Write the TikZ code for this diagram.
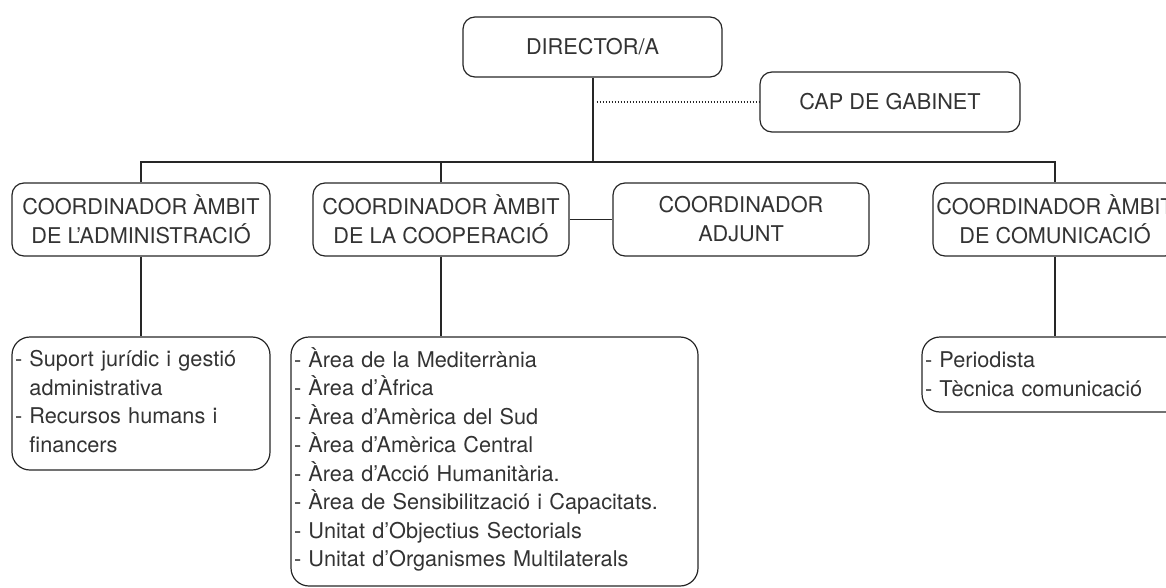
\documentclass[tikz,border=0pt]{standalone}
\usepackage{fontspec}
\setmainfont{TeX Gyre Heros}
\usetikzlibrary{calc}

\tikzset{
    box/.style = {draw = black!85, line width = 1.2pt, rounded corners = 12pt, text = black!80, font = \fontsize{21.7}{29}\selectfont, inner sep = 0pt},
    headbox/.style = {box, align = center, minimum height = 73pt},
    listbox/.style = {box, align = left, inner xsep = 3pt, rounded corners = 18pt, font = \fontsize{21.7}{28.5}\selectfont, text height = 16pt},
    link/.style = {draw = black!85, line width = 1.2pt},
}

\begin{document}
\begin{tikzpicture}[x = 1pt, y = -1pt]
    \useasboundingbox (0, 0) rectangle (1166, 588);
    \clip (0, 0) rectangle (1166, 588);

    \node[box, minimum width = 259pt, minimum height = 60pt] (director) at (592.5, 47) {DIRECTOR/A};
    \node[box, minimum width = 260pt, minimum height = 60pt] (gabinet) at (890, 102) {CAP DE GABINET};

    \node[headbox, minimum width = 258pt] (admin) at (141, 219.5) {COORDINADOR ÀMBIT\\DE L’ADMINISTRACIÓ};
    \node[headbox, minimum width = 256pt] (cooperacio) at (441, 219.5) {COORDINADOR ÀMBIT\\DE LA COOPERACIÓ};
    \node[headbox, minimum width = 256pt] (adjunt) at (741, 219.5) {COORDINADOR\\ADJUNT};
    \node[headbox, minimum width = 244pt] (comunicacio) at (1055, 219.5) {COORDINADOR ÀMBIT\\DE COMUNICACIÓ};

    \node[listbox, text width = 252pt, text depth = 90pt, minimum height = 133pt] (adminlist) at (141, 403.5) {- Suport jurídic i gestió\\\phantom{- }administrativa\\- Recursos humans i\\\phantom{- }financers};
    \node[listbox, text width = 401pt, text depth = 205pt, minimum height = 249pt] (cooplist) at (494.5, 461.5) {- Àrea de la Mediterrània\\- Àrea d’Àfrica\\- Àrea d’Amèrica del Sud\\- Àrea d’Amèrica Central\\- Àrea d’Acció Humanitària.\\- Àrea de Sensibilització i Capacitats.\\- Unitat d’Objectius Sectorials\\- Unitat d’Organismes Multilaterals};
    \node[listbox, text width = 260pt, text depth = 30pt, minimum height = 75pt] (comlist) at (1055, 374.5) {- Periodista\\- Tècnica comunicació};

    \coordinate (bus) at (592.5, 162);
    \draw[link, line width = 2pt] (director.south) -- (bus);
    \draw[link] (admin.north) |- (bus) -| (comunicacio.north);
    \draw[link] (cooperacio.north) -- (cooperacio.north |- bus);
    \draw[link] (cooperacio.east) -- (adjunt.west);
    \draw[link] (admin.south) -- (adminlist.north);
    \draw[link] (cooperacio.south) -- (cooperacio.south |- cooplist.north);
    \draw[link] (comunicacio.south) -- (comlist.north);
    \draw[link, dash pattern = on 1.2pt off 1.8pt] ($(director.south |- gabinet.west) + (4, 0)$) -- (gabinet.west);
\end{tikzpicture}
\end{document}
